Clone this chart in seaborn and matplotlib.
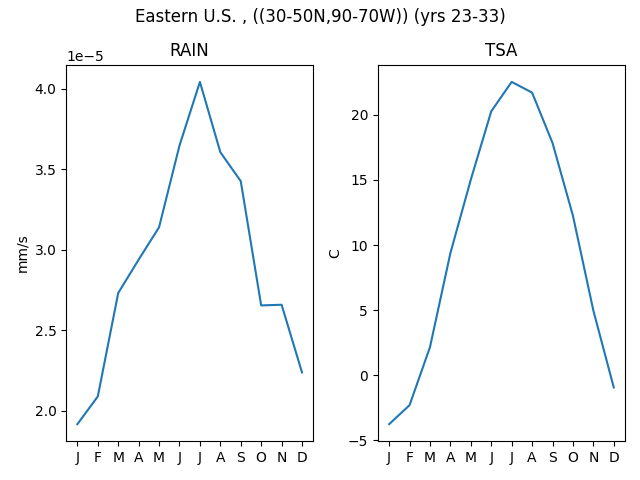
import matplotlib
matplotlib.use("Agg")
import matplotlib.pyplot as plt
import seaborn as sns
import pandas as pd

months = ["J", "F", "M", "A", "M", "J", "J", "A", "S", "O", "N", "D"]
rain = [1.917e-5, 2.089e-5, 2.731e-5, 2.938e-5, 3.139e-5, 3.646e-5,
        4.041e-5, 3.605e-5, 3.425e-5, 2.654e-5, 2.658e-5, 2.238e-5]
tsa = [-3.77, -2.31, 2.15, 9.38, 15.03, 20.28, 22.54, 21.72, 17.85, 12.26, 4.97, -0.95]

df = pd.DataFrame({"m": list(range(12)), "RAIN": rain, "TSA": tsa})

fig, axes = plt.subplots(1, 2, figsize=(6.4, 4.8), dpi=100)
fig.suptitle("Eastern U.S. , ((30-50N,90-70W)) (yrs 23-33)", y=0.983)

for ax, var, unit in zip(axes, ["RAIN", "TSA"], ["mm/s", "C"]):
    sns.lineplot(data=df, x="m", y=var, ax=ax, color="#1f77b4")
    ax.set_title(var)
    ax.set_ylabel(unit)
    ax.set_xlabel("")
    ax.set_xticks(range(12))
    ax.set_xticklabels(months)

fig.tight_layout()
fig.subplots_adjust(top=0.865)
fig.savefig("out.png", dpi=100)
